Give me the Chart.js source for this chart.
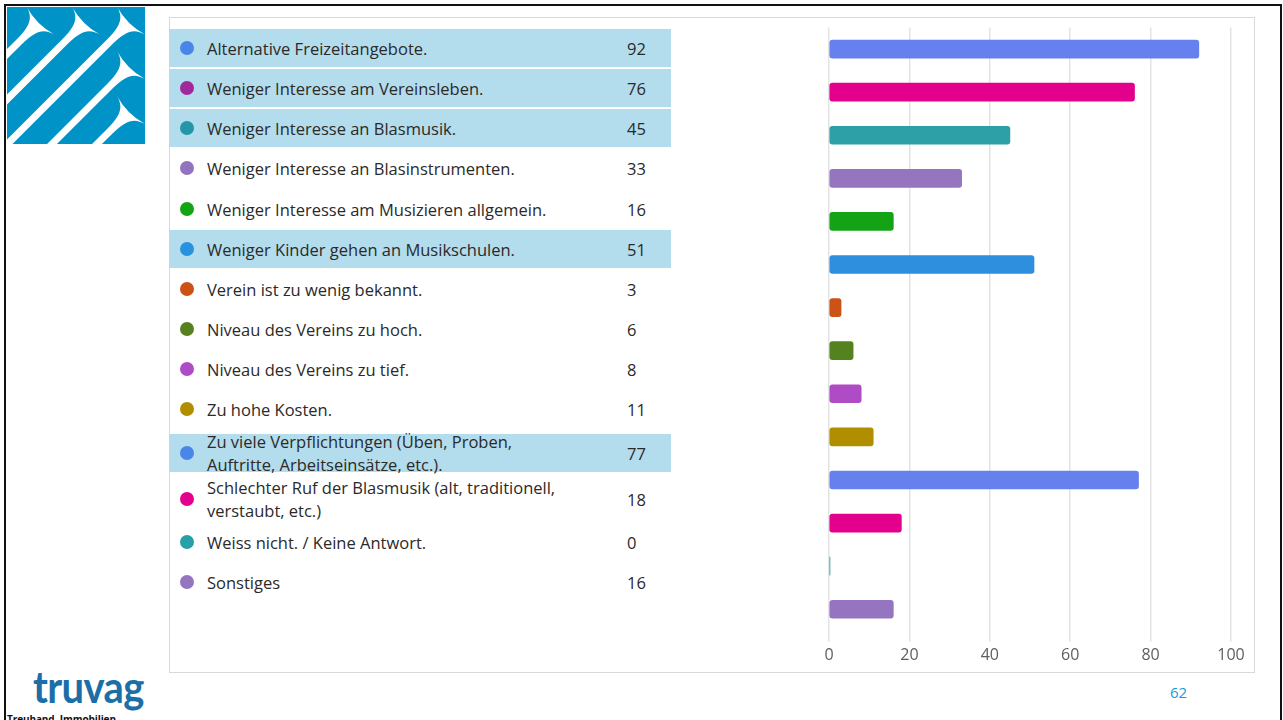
<!DOCTYPE html>
<html lang="de">
<head>
<meta charset="utf-8">
<title>Gründe</title>
<script src="https://cdn.jsdelivr.net/npm/chart.js@4.4.1/dist/chart.umd.min.js"></script>
<style>
  html, body { margin: 0; padding: 0; background: #fff; }
  body { width: 1283px; height: 720px; position: relative; overflow: hidden; font-family: "Open Sans", "Noto Sans", sans-serif; }
  #rahmen { position: absolute; left: 4px; top: 4px; width: 1278px; height: 760px; border: 2px solid #111; box-sizing: border-box; }
  #logo { position: absolute; left: 7px; top: 7px; }
  #kasten { position: absolute; left: 169px; top: 17px; width: 1086px; height: 656px; border: 1px solid #d9d9d9; box-sizing: border-box; }
  #legende { position: absolute; left: 169px; top: 27.7px; width: 502px; }
  .fila { position: relative; height: 40.2px; }
  .fila.doble { height: 46px; }
  .fondo { position: absolute; left: 0; right: 0; top: 50%; height: 38px; margin-top: -19px; background: #b3dcec; }
  .punto { position: absolute; left: 11px; top: 50%; width: 14px; height: 14px; margin-top: -7px; border-radius: 50%; }
  .texto { position: absolute; left: 38px; top: 50%; transform: translateY(-50%); font-size: 16.5px; line-height: 23px; color: #2b2a29; white-space: nowrap; }
  .valor { position: absolute; left: 458px; top: 50%; transform: translateY(-50%); font-size: 16.5px; line-height: 23px; color: #2b2a29; }
  #grafica { position: absolute; left: 700px; top: 18px; width: 554px; height: 654px; }
  #truvag { position: absolute; left: 33px; top: 664px; font-family: Lato, "Open Sans", sans-serif; font-weight: 700; font-size: 40px; letter-spacing: -0.6px; color: #1b6ea8; line-height: 1; transform: scaleY(1.12); transform-origin: 0 0; }
  #claim { position: absolute; left: 7px; top: 712px; font-family: "Open Sans", sans-serif; font-weight: 700; font-size: 10px; letter-spacing: -0.1px; color: #111; white-space: nowrap; }
  #seite { position: absolute; left: 1170px; top: 682px; font-size: 15px; color: #1a9bd7; }
</style>
</head>
<body>
<div id="rahmen"></div>

<!-- Logo oben links -->
<svg id="logo" width="138" height="137" viewBox="0 0 138 137">
  <defs>
    <clipPath id="recorte"><rect x="0" y="0" width="138" height="137"/></clipPath>
    <path id="horn" d="M-220,-3.5 L-30,-3.5 C-10,-3.5 -3,-8 0,-20 Q-6,0 0,20 C-3,8 -10,3.5 -30,3.5 L-220,3.5 Z" fill="#fff"/>
  </defs>
  <rect x="0" y="0" width="138" height="137" fill="#0093c7"/>
  <g clip-path="url(#recorte)">
    <use href="#horn" transform="translate(33.5,13.5) rotate(-45)"/>
    <use href="#horn" transform="translate(79,13.5) rotate(-45)"/>
    <use href="#horn" transform="translate(124,13.5) rotate(-45)"/>
    <use href="#horn" transform="translate(124,58) rotate(-45)"/>
    <use href="#horn" transform="translate(124,103) rotate(-45)"/>
  </g>
</svg>

<div id="kasten"></div>
<div id="legende"></div>
<div id="grafica"><canvas id="GraficaGruende"></canvas></div>

<div id="truvag">truvag</div>
<div id="claim">Treuhand. Immobilien.</div>
<div id="seite">62</div>

<script>
// Datos de la grafica
const categorias = [
  "Alternative Freizeitangebote.",
  "Weniger Interesse am Vereinsleben.",
  "Weniger Interesse an Blasmusik.",
  "Weniger Interesse an Blasinstrumenten.",
  "Weniger Interesse am Musizieren allgemein.",
  "Weniger Kinder gehen an Musikschulen.",
  "Verein ist zu wenig bekannt.",
  "Niveau des Vereins zu hoch.",
  "Niveau des Vereins zu tief.",
  "Zu hohe Kosten.",
  ["Zu viele Verpflichtungen (Üben, Proben,", "Auftritte, Arbeitseinsätze, etc.)."],
  ["Schlechter Ruf der Blasmusik (alt, traditionell,", "verstaubt, etc.)"],
  "Weiss nicht. / Keine Antwort.",
  "Sonstiges",
];
const valores = [92, 76, 45, 33, 16, 51, 3, 6, 8, 11, 77, 18, 0, 16];
const coloresBarras = [
  "#6680ee", "#e3008c", "#2ca0a6", "#9575bf", "#14a314", "#2f8fdf", "#cc5215",
  "#558220", "#af4bc5", "#b18e00", "#6680ee", "#e3008c", "#2ca0a6", "#9575bf",
];
const coloresPuntos = [
  "#4a86e8", "#a0299b", "#2596a8", "#9473be", "#13a413", "#2892de", "#cc5115",
  "#55821f", "#ae4bc6", "#b08e00", "#4a86e8", "#e3008c", "#27a0a8", "#9575c0",
];
const filasResaltadas = [true, true, true, false, false, true, false, false, false, false, true, false, false, false];
const ticksX = [0, 20, 40, 60, 80, 100];

document.addEventListener("DOMContentLoaded", () => {
  fntLegende();
  graficaGruende();
});

// Lista de la izquierda con punto, texto y valor
function fntLegende() {
  const cont = document.getElementById("legende");
  categorias.forEach((cat, i) => {
    const lineas = Array.isArray(cat) ? cat : [cat];
    const fila = document.createElement("div");
    fila.className = lineas.length > 1 ? "fila doble" : "fila";
    if (filasResaltadas[i]) {
      const fondo = document.createElement("div");
      fondo.className = "fondo";
      fila.appendChild(fondo);
    }
    const punto = document.createElement("div");
    punto.className = "punto";
    punto.style.background = coloresPuntos[i];
    fila.appendChild(punto);

    const texto = document.createElement("div");
    texto.className = "texto";
    lineas.forEach((l, j) => {
      if (j > 0) texto.appendChild(document.createElement("br"));
      texto.appendChild(document.createTextNode(l));
    });
    fila.appendChild(texto);

    const valor = document.createElement("div");
    valor.className = "valor";
    valor.textContent = valores[i];
    fila.appendChild(valor);
    cont.appendChild(fila);
  });
}

// Barras horizontales
function graficaGruende() {
  const ctx = document.getElementById("GraficaGruende");
  new Chart(ctx, {
    type: "bar",
    data: {
      labels: categorias,
      datasets: [
        {
          data: valores,
          backgroundColor: coloresBarras,
          borderRadius: 3,
          borderSkipped: false,
          barThickness: 18,
          minBarLength: 1,
        },
      ],
    },
    options: {
      indexAxis: "y",
      responsive: true,
      maintainAspectRatio: false,
      animation: false,
      layout: { padding: { left: 129, right: 23, top: 9.5, bottom: 3 } },
      plugins: { legend: { display: false }, tooltip: { enabled: false } },
      scales: {
        y: { display: false },
        x: {
          min: 0,
          max: 100,
          afterBuildTicks: (axis) => {
            axis.ticks = ticksX.map((v) => ({ value: v }));
          },
          border: { display: false },
          grid: { color: "#e3e3e3", tickColor: "#e3e3e3", tickLength: 11, lineWidth: 1.5 },
          ticks: {
            color: "#605e5c",
            padding: 4,
            maxRotation: 0,
            font: { family: "'Open Sans', sans-serif", size: 16 },
          },
        },
      },
    },
  });
}
</script>
</body>
</html>
